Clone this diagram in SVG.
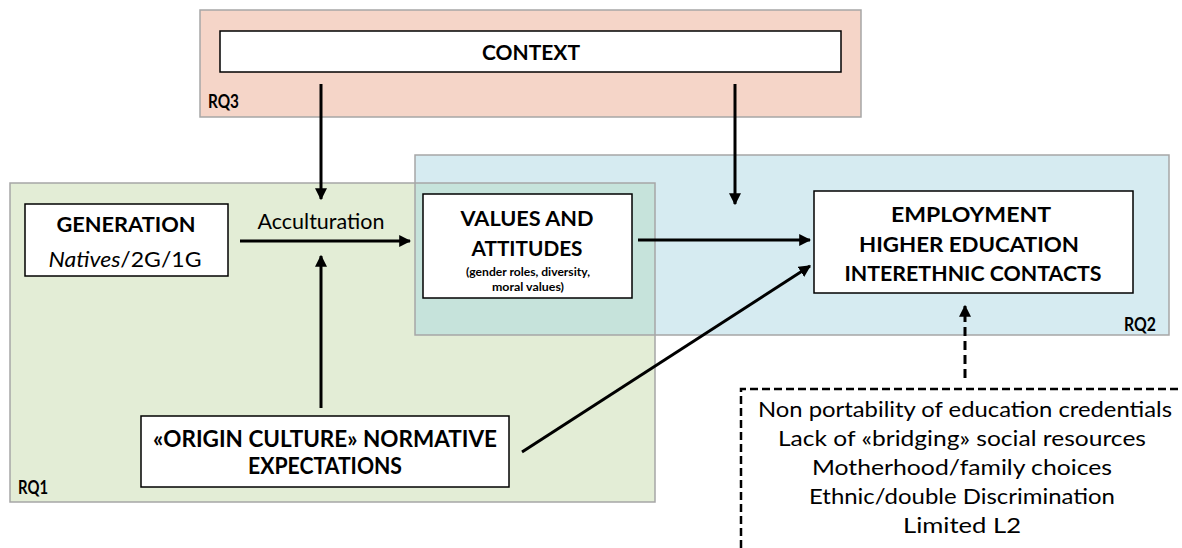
<svg xmlns="http://www.w3.org/2000/svg" width="1182" height="548" viewBox="0 0 1182 548">
  <defs>
    <marker id="arrow" viewBox="0 0 10 10" refX="9" refY="5" markerWidth="4" markerHeight="4" orient="auto" markerUnits="strokeWidth">
      <path d="M0,0 L10,5 L0,10 z" fill="#000"/>
    </marker>
    <style>
      .region { stroke: #a6a6a6; stroke-width: 1.5; }
      .box { fill: #fff; stroke: #000; stroke-width: 1.5; }
      .t { font-family: Lato, "Open Sans", "Liberation Sans", sans-serif; fill: #000; text-anchor: middle; }
      .b { font-weight: bold; }
      .lbl { font-family: Lato, "Open Sans", "Liberation Sans", sans-serif; font-weight: bold; font-size: 18px; fill: #000; }
      .conn { stroke: #000; stroke-width: 3; fill: none; }
    </style>
  </defs>

  <rect width="1182" height="548" fill="#fff"/>

  <!-- research-question regions -->
  <g id="regions">
    <rect id="rq3" class="region" x="200" y="10" width="661" height="107" fill="#f5d5c8"/>
    <rect id="rq1" x="10" y="183" width="645" height="319" fill="#e3edd6"/>
    <rect id="rq2" x="415" y="155" width="754" height="180" fill="#d6ebf1"/>
    <rect id="overlap" x="415" y="183" width="240" height="152" fill="#c6e3db"/>
    <rect class="region" x="10" y="183" width="645" height="319" fill="none"/>
    <rect class="region" x="415" y="155" width="754" height="180" fill="none"/>
    <text class="lbl" x="208" y="108" textLength="31" lengthAdjust="spacingAndGlyphs">RQ3</text>
    <text class="lbl" x="18" y="494" textLength="30" lengthAdjust="spacingAndGlyphs">RQ1</text>
    <text class="lbl" x="1124" y="331" textLength="32" lengthAdjust="spacingAndGlyphs">RQ2</text>
  </g>

  <!-- connectors -->
  <g id="connectors">
    <line class="conn" x1="321" y1="84" x2="321" y2="199" marker-end="url(#arrow)"/>
    <line class="conn" x1="735" y1="84" x2="735" y2="204" marker-end="url(#arrow)"/>
    <line class="conn" x1="240" y1="241" x2="410" y2="241" marker-end="url(#arrow)"/>
    <line class="conn" x1="321" y1="408" x2="321" y2="256" marker-end="url(#arrow)"/>
    <line class="conn" x1="638" y1="240" x2="810" y2="240" marker-end="url(#arrow)"/>
    <line class="conn" x1="522" y1="452" x2="810" y2="266" marker-end="url(#arrow)"/>
    <line class="conn" x1="965" y1="378" x2="965" y2="306" stroke-dasharray="9 5" marker-end="url(#arrow)"/>
    <text class="t" x="321" y="229" font-size="21" textLength="127" lengthAdjust="spacingAndGlyphs">Acculturation</text>
  </g>

  <g id="context">
    <rect class="box" x="220" y="31" width="621" height="41"/>
    <text class="t b" x="531" y="60" font-size="21" textLength="98" lengthAdjust="spacingAndGlyphs">CONTEXT</text>
  </g>

  <g id="generation">
    <rect class="box" x="25" y="204" width="203" height="72"/>
    <text class="t b" x="126" y="232" font-size="21" textLength="139" lengthAdjust="spacingAndGlyphs">GENERATION</text>
    <text class="t" x="125" y="267" font-size="22" textLength="153" lengthAdjust="spacingAndGlyphs"><tspan font-style="italic">Natives</tspan>/2G/1G</text>
  </g>

  <g id="values">
    <rect class="box" x="423" y="194" width="209" height="104" stroke-width="3"/>
    <text class="t b" x="527" y="226" font-size="21" textLength="133" lengthAdjust="spacingAndGlyphs">VALUES AND</text>
    <text class="t b" x="527" y="256" font-size="21" textLength="111" lengthAdjust="spacingAndGlyphs">ATTITUDES</text>
    <text class="t b" x="528" y="276" font-size="11" textLength="124" lengthAdjust="spacingAndGlyphs">(gender roles, diversity,</text>
    <text class="t b" x="528" y="291" font-size="11" textLength="72" lengthAdjust="spacingAndGlyphs">moral values)</text>
  </g>

  <g id="outcomes">
    <rect class="box" x="814" y="191" width="319" height="102"/>
    <text class="t b" x="971" y="222" font-size="21" textLength="160" lengthAdjust="spacingAndGlyphs">EMPLOYMENT</text>
    <text class="t b" x="969" y="252" font-size="21" textLength="220" lengthAdjust="spacingAndGlyphs">HIGHER EDUCATION</text>
    <text class="t b" x="973" y="281" font-size="21" textLength="257" lengthAdjust="spacingAndGlyphs">INTERETHNIC CONTACTS</text>
  </g>

  <g id="origin">
    <rect class="box" x="141" y="416" width="368" height="71"/>
    <text class="t b" x="325" y="447" font-size="22" textLength="344" lengthAdjust="spacingAndGlyphs">«ORIGIN CULTURE» NORMATIVE</text>
    <text class="t b" x="325" y="474" font-size="22" textLength="154" lengthAdjust="spacingAndGlyphs">EXPECTATIONS</text>
  </g>

  <g id="barriers">
    <path d="M741,560 L741,389 L1190,389" fill="none" stroke="#000" stroke-width="2.5" stroke-dasharray="8 4"/>
    <text class="t" x="965" y="417" font-size="22" textLength="414" lengthAdjust="spacingAndGlyphs">Non portability of education credentials</text>
    <text class="t" x="962" y="446" font-size="22" textLength="368" lengthAdjust="spacingAndGlyphs">Lack of «bridging» social resources</text>
    <text class="t" x="962" y="475" font-size="22" textLength="300" lengthAdjust="spacingAndGlyphs">Motherhood/family choices</text>
    <text class="t" x="962" y="504" font-size="22" textLength="306" lengthAdjust="spacingAndGlyphs">Ethnic/double Discrimination</text>
    <text class="t" x="962" y="533" font-size="22" textLength="118" lengthAdjust="spacingAndGlyphs">Limited L2</text>
  </g>
</svg>
